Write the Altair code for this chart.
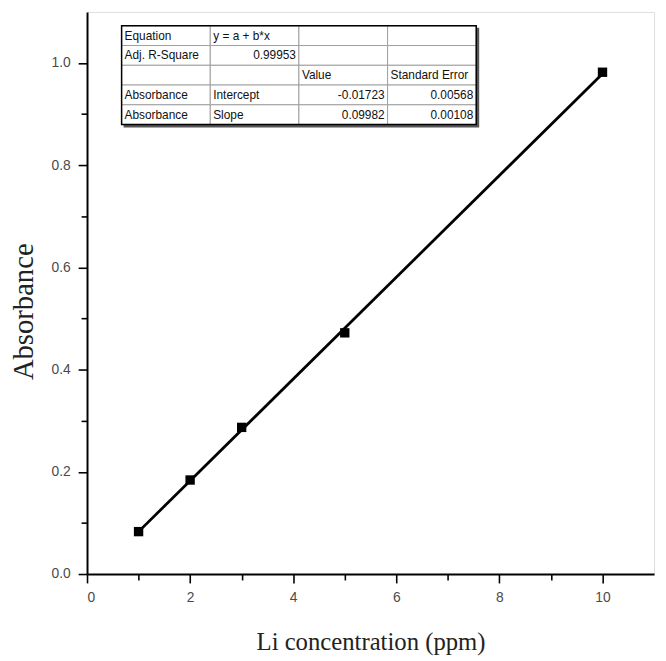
import altair as alt
import pandas as pd

# data
conc = [1, 2, 3, 5, 10]
absorb = [0.083, 0.184, 0.287, 0.472, 0.982]

table_rows = [
    ["Equation", "y = a + b*x", "", ""],
    ["Adj. R-Square", "0.99953", "", ""],
    ["", "", "Value", "Standard Error"],
    ["Absorbance", "Intercept", "-0.01723", "0.00568"],
    ["Absorbance", "Slope", "0.09982", "0.00108"],
]
right_aligned = {(1, 1), (3, 2), (3, 3), (4, 2), (4, 3)}

x_ticks = list(range(0, 11))
y_ticks = [round(i * 0.1, 1) for i in range(0, 11)]

df = pd.DataFrame({"conc": conc, "abs": absorb})

cells = []
for r, row in enumerate(table_rows):
    for c, txt in enumerate(row):
        ra = (r, c) in right_aligned
        cells.append({"row": r, "row2": r + 1, "col": c, "col2": c + 1,
                      "txt": txt, "tx": c + 1 if ra else c, "ra": ra})
cdf = pd.DataFrame(cells)

W, H = 574, 569
LABEL_COLOR = "#4a4a4a"

xax = alt.Axis(values=x_ticks, grid=False, domainColor="black", domainWidth=2,
               tickColor="black", tickWidth=1.6,
               tickSize={"condition": {"test": "datum.value % 2 !== 0", "value": 6}, "value": 9},
               labelExpr="datum.value % 2 === 0 ? format(datum.value, 'd') : ''",
               labelFont="Liberation Sans", labelFontSize=14, labelColor=LABEL_COLOR,
               labelPadding=8, title="Li concentration (ppm)", titleFont="Liberation Serif",
               titleFontSize=25, titleFontWeight="normal", titleColor="#222222",
               titleX=287, titleY=76, titleBaseline="alphabetic", titleAnchor="middle")
yax = alt.Axis(values=y_ticks, grid=False, domainColor="black", domainWidth=2,
               tickColor="black", tickWidth=1.6,
               tickSize={"condition": {"test": "round(datum.value * 10) % 2 !== 0", "value": 6}, "value": 9},
               labelExpr="round(datum.value * 10) % 2 === 0 ? format(datum.value, '.1f') : ''",
               labelFont="Liberation Sans", labelFontSize=14, labelColor=LABEL_COLOR,
               labelPadding=8, title="Absorbance", titleFont="Liberation Serif",
               titleFontSize=29, titleFontWeight="normal", titleColor="#222222",
               titleX=-55, titleY=303, titleAngle=-90, titleBaseline="alphabetic",
               titleAnchor="middle")

xs = alt.Scale(domain=[0, 11], nice=False, zero=False)
ys = alt.Scale(domain=[0, 1.1], nice=False, zero=False)

base = alt.Chart(df)
fit = base.transform_regression("conc", "abs").mark_line(
    color="black", strokeWidth=2.8).encode(
    x=alt.X("conc:Q", scale=xs, axis=xax),
    y=alt.Y("abs:Q", scale=ys, axis=yax))
pts = base.mark_square(color="black", size=90, opacity=1).encode(
    x=alt.X("conc:Q", scale=xs, axis=xax),
    y=alt.Y("abs:Q", scale=ys, axis=yax))
main = alt.layer(fit, pts)

tx = alt.Scale(domain=[0, 4], range=[35, 394])
ty = alt.Scale(domain=[0, 5], range=[14, 114])
tb = alt.Chart(cdf)
shadow = tb.transform_filter("datum.row == 0 && datum.col == 0").mark_rect(
    fill="#555555").encode(
    x=alt.value(37), x2=alt.value(397), y=alt.value(16), y2=alt.value(117))
rects = tb.mark_rect(fill="white", stroke="#a0a0a0", strokeWidth=1).encode(
    x=alt.X("col:Q", scale=tx, axis=None), x2="col2:Q",
    y=alt.Y("row:Q", scale=ty, axis=None), y2="row2:Q")
outer = tb.transform_filter("datum.row == 0 && datum.col == 0").mark_rect(
    fill=None, filled=False, stroke="black", strokeWidth=1.5).encode(
    x=alt.value(35), x2=alt.value(394), y=alt.value(14), y2=alt.value(114))
txt_l = tb.transform_filter("!datum.ra").mark_text(
    align="left", baseline="middle", dx=3, dy=10, font="Liberation Sans",
    fontSize=12, color="#111111").encode(
    x=alt.X("tx:Q", scale=tx, axis=None), y=alt.Y("row:Q", scale=ty, axis=None),
    text="txt:N")
txt_r = tb.transform_filter("datum.ra").mark_text(
    align="right", baseline="middle", dx=-3, dy=10, font="Liberation Sans",
    fontSize=12, color="#111111").encode(
    x=alt.X("tx:Q", scale=tx, axis=None), y=alt.Y("row:Q", scale=ty, axis=None),
    text="txt:N")
table = alt.layer(shadow, rects, outer, txt_l, txt_r)

chart = alt.layer(main, table).resolve_scale(x="independent", y="independent").properties(
    width=W, height=H,
    autosize=alt.AutoSizeParams(type="none"),
    padding={"left": 80, "top": 0, "right": 4, "bottom": 80},
).configure_view(stroke=None).configure(background="white")

chart.save("out.html", embed_options={"renderer": "svg", "actions": False})
